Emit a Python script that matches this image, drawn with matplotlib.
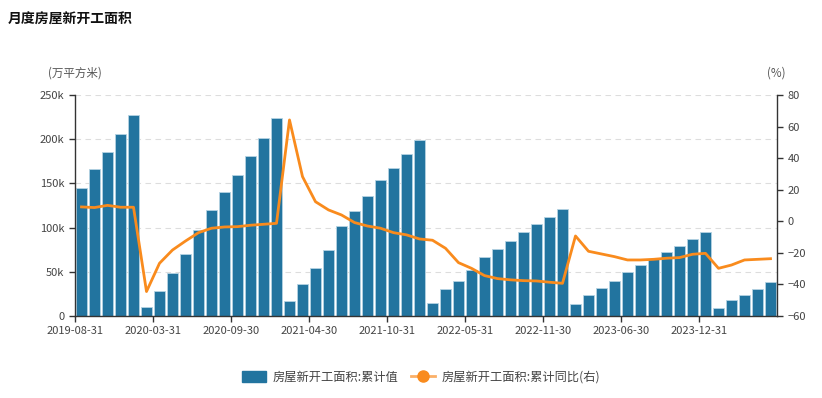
import matplotlib.pyplot as plt
import matplotlib.patches as mpatches
from matplotlib.lines import Line2D
import pandas as pd
import numpy as np

plt.rcParams['font.family'] = ['Noto Sans CJK SC', 'DejaVu Sans']

# monthly categories (January is not published separately)
months = [d for d in pd.date_range("2019-08-31", "2024-06-30", freq="ME") if d.month != 1]
labels = [d.strftime("%Y-%m-%d") for d in months]

# cumulative new construction area (万平方米)
area = [145.2, 166.0, 185.5, 205.5, 227.0,
        10.2, 28.3, 48.3, 69.8, 97.6, 119.9, 139.9, 159.8, 180.6, 201.0, 224.3,
        17.3, 36.2, 54.0, 74.3, 101.5, 119.1, 135.4, 153.5, 167.1, 182.9, 199.1,
        15.1, 30.2, 40.0, 52.0, 66.4, 76.1, 85.2, 94.7, 104.0, 112.3, 120.7,
        13.6, 24.1, 31.3, 40.0, 49.8, 57.3, 64.1, 72.0, 79.5, 87.5, 95.4,
        9.4, 17.7, 23.4, 30.2, 38.1]
area = [v * 1000 for v in area]

# cumulative YoY (%)
yoy = [9.1, 8.7, 10.1, 8.9, 8.9,
       -44.5, -26.6, -18.2, -12.5, -7.2, -4.4, -3.6, -3.4, -2.5, -1.9, -1.3,
       64.2, 28.3, 12.4, 7.2, 4.0, -0.8, -3.0, -4.4, -7.2, -8.6, -11.2,
       -12.0, -17.1, -26.2, -29.8, -34.4, -36.3, -37.1, -37.6, -37.8, -38.6, -39.3,
       -9.3, -19.0, -20.7, -22.4, -24.5, -24.5, -24.1, -23.4, -23.0, -20.9, -20.3,
       -29.8, -27.7, -24.5, -24.1, -23.7]

bar_color = "#22749f"
line_color = "#f98b1d"
text_color = "#444444"

fig = plt.figure(figsize=(8.22, 3.98), dpi=100)
ax = fig.add_axes([75 / 822, 1 - 316 / 398, 702 / 822, 221 / 398])
ax2 = ax.twinx()

x = np.arange(len(area)) + 0.5
ax.bar(x, area, width=0.8, color=bar_color, edgecolor="#b5d3e3", linewidth=0.6, zorder=2)
ax2.plot(x, yoy, color=line_color, linewidth=2, zorder=3)

ax.set_xlim(0, len(area))
ax.set_ylim(0, 250000)
ax.set_yticks(np.arange(0, 250001, 50000))
ax.set_yticklabels(["0"] + [f"{int(v / 1000)}k" for v in np.arange(50000, 250001, 50000)])
ax2.set_ylim(-60, 80)
ax2.set_yticks(np.arange(-60, 81, 20))

ax.set_xticks(np.arange(0, len(area), 6))
ax.set_xticklabels(labels[::6])

ax.grid(axis="y", color="#dddddd", linestyle=(0, (5, 4)), linewidth=0.8, zorder=0)
ax.set_axisbelow(True)

for a in (ax, ax2):
    a.spines["top"].set_visible(False)
    for s in ("left", "right", "bottom"):
        a.spines[s].set_color("#333333")
        a.spines[s].set_linewidth(1)
    a.tick_params(colors="#333333", labelcolor=text_color, labelsize=8, length=4, width=1)
ax2.spines["left"].set_visible(False)
ax2.spines["bottom"].set_visible(False)
ax.spines["right"].set_visible(False)

fig.text(8 / 822, 1 - 20 / 398, "月度房屋新开工面积", fontsize=10, fontweight="bold", color="#111111", va="center")
fig.text(48 / 822, 1 - 73 / 398, "(万平方米)", fontsize=8.3, color="#555555", va="center")
fig.text(767 / 822, 1 - 73 / 398, "(%)", fontsize=8.3, color="#555555", va="center")

handles = [
    mpatches.FancyBboxPatch((0, 0), 1, 1, boxstyle="round,pad=0.1", color=bar_color),
    Line2D([0], [0], color="#fbb068", linewidth=2, marker="o", markersize=8,
           markerfacecolor=line_color, markeredgecolor=line_color),
]
fig.legend(handles, ["房屋新开工面积:累计值", "房屋新开工面积:累计同比(右)"],
           loc="center", bbox_to_anchor=(0.512, 1 - 377 / 398), ncol=2, frameon=False,
           fontsize=8.8, labelcolor=text_color, handlelength=2.0, handleheight=1.0,
           columnspacing=1.0, handletextpad=0.5)

fig.savefig("out.png", dpi=100)
